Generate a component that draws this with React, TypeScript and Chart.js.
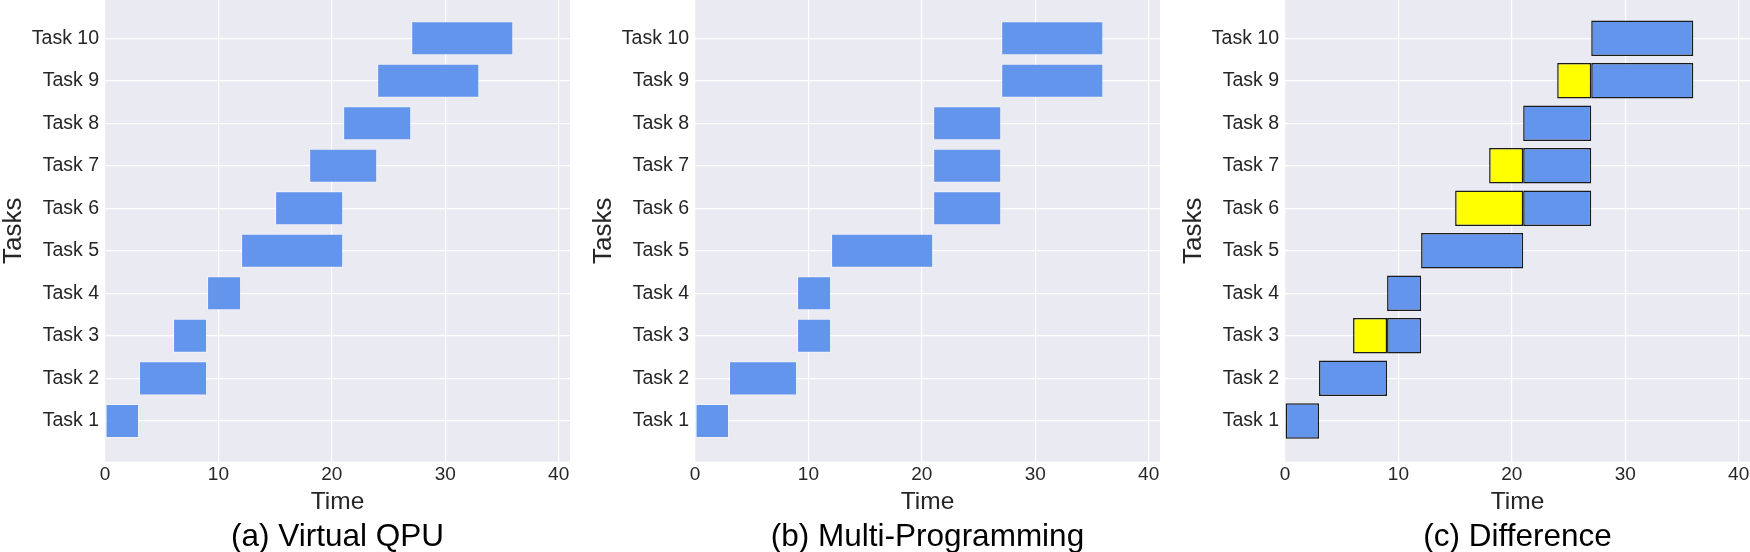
import React, { useEffect, useRef } from "react";
import { Chart, registerables } from "chart.js";

Chart.register(...registerables);

const FONT = "'Liberation Sans', Arial, Helvetica, sans-serif";

const taskLabels = ["Task 1", "Task 2", "Task 3", "Task 4", "Task 5", "Task 6", "Task 7", "Task 8", "Task 9", "Task 10"];
const taskIndex = [1, 2, 3, 4, 5, 6, 7, 8, 9, 10];

// (a) Virtual QPU
const virtualStart = [0, 3, 6, 9, 12, 15, 18, 21, 24, 27];
const virtualEnd = [3, 9, 9, 12, 21, 21, 24, 27, 33, 36];

// (b) Multi-Programming
const multiStart = [0, 3, 9, 9, 12, 21, 21, 21, 27, 27];
const multiEnd = [3, 9, 12, 12, 21, 27, 27, 27, 36, 36];

// (c) Difference: waiting segments (yellow)
const delayTask = [3, 6, 7, 9];
const delayStart = [6, 15, 18, 24];
const delayEnd = [9, 21, 21, 27];

const xTicks = [0, 10, 20, 30, 40];
const captions = ["(a) Virtual QPU", "(b) Multi-Programming", "(c) Difference"];

const BLUE = "#6495ED";
const YELLOW = "#FFFF00";

const bgPlugin = {
  id: "plotBg",
  beforeDraw(chart: any) {
    const { ctx, chartArea } = chart;
    if (!chartArea) return;
    ctx.save();
    ctx.fillStyle = "#EAEAF2";
    ctx.fillRect(chartArea.left, chartArea.top, chartArea.right - chartArea.left, chartArea.bottom - chartArea.top);
    ctx.restore();
  },
};

function buildData(panel: number) {
  if (panel === 0) {
    return [
      {
        data: taskIndex.map((t, i) => ({ y: t, x: [virtualStart[i], virtualEnd[i]] })),
        backgroundColor: BLUE,
        borderColor: "rgba(255,255,255,0.45)",
        borderWidth: 1,
        borderSkipped: false,
        barPercentage: 0.8,
        categoryPercentage: 1,
        grouped: false,
      },
    ];
  }
  if (panel === 1) {
    return [
      {
        data: taskIndex.map((t, i) => ({ y: t, x: [multiStart[i], multiEnd[i]] })),
        backgroundColor: BLUE,
        borderColor: "rgba(255,255,255,0.45)",
        borderWidth: 1,
        borderSkipped: false,
        barPercentage: 0.8,
        categoryPercentage: 1,
        grouped: false,
      },
    ];
  }
  return [
    {
      data: delayTask.map((t, i) => ({ y: t, x: [delayStart[i], delayEnd[i]] })),
      backgroundColor: YELLOW,
      borderColor: "#1a1a1a",
      borderWidth: 1.5,
      borderSkipped: false,
      barPercentage: 0.835,
      categoryPercentage: 1,
      grouped: false,
    },
    {
      data: taskIndex.map((t, i) => ({ y: t, x: [multiStart[i], multiEnd[i]] })),
      backgroundColor: BLUE,
      borderColor: "#1a1a1a",
      borderWidth: 1.5,
      borderSkipped: false,
      barPercentage: 0.835,
      categoryPercentage: 1,
      grouped: false,
    },
  ];
}

function Panel({ panel }: { panel: number }) {
  const ref = useRef<HTMLCanvasElement | null>(null);
  useEffect(() => {
    if (!ref.current) return;
    const chart = new Chart(ref.current, {
      type: "bar",
      data: { datasets: buildData(panel) as any },
      plugins: [bgPlugin],
      options: {
        indexAxis: "y",
        animation: false,
        responsive: false,
        devicePixelRatio: 1,
        events: [],
        layout: { padding: { left: 0, right: 10, top: 0, bottom: 0 } },
        plugins: {
          legend: { display: false },
          tooltip: { enabled: false },
          title: {
            display: true,
            position: "bottom",
            fullSize: false,
            text: captions[panel],
            color: "#000",
            font: { family: FONT, size: 31.5, weight: "normal", lineHeight: 1.2 },
            padding: 0,
          },
        },
        scales: {
          x: {
            type: "linear",
            position: "bottom",
            min: 0,
            max: 41,
            offset: false,
            afterBuildTicks: (s: any) => {
              s.ticks = xTicks.map((v) => ({ value: v }));
            },
            afterFit: (s: any) => {
              s.height = 56.5;
              s.paddingLeft = 0;
              s.paddingRight = 0;
            },
            ticks: {
              includeBounds: false,
              autoSkip: false,
              maxRotation: 0,
              padding: 2,
              color: "#262626",
              font: { family: FONT, size: 19 },
            },
            grid: { color: "#ffffff", lineWidth: 1.2, drawTicks: false, offset: false },
            border: { display: false },
            title: {
              display: true,
              text: "Time",
              color: "#262626",
              font: { family: FONT, size: 24.5, lineHeight: 1.2 },
              padding: { top: 0, bottom: 1 },
            },
          },
          y: {
            type: "linear",
            min: 0.04,
            max: 10.9,
            offset: false,
            afterBuildTicks: (s: any) => {
              s.ticks = taskIndex.map((v) => ({ value: v }));
            },
            afterFit: (s: any) => {
              s.width = 115;
              s.paddingTop = 0;
              s.paddingBottom = 0;
            },
            ticks: {
              autoSkip: false,
              padding: 6,
              color: "#262626",
              font: { family: FONT, size: 19.5 },
              callback: (v: any) => taskLabels[Math.round(Number(v)) - 1],
            },
            grid: { color: "#ffffff", lineWidth: 1.2, drawTicks: false, offset: false },
            border: { display: false },
            title: {
              display: true,
              text: "Tasks",
              color: "#262626",
              font: { family: FONT, size: 26, lineHeight: 1.2 },
              padding: { top: 8, bottom: 0 },
            },
          },
        },
      } as any,
    });
    return () => chart.destroy();
  }, [panel]);

  return (
    <canvas
      ref={ref}
      width={590}
      height={556}
      style={{ position: "absolute", left: 590 * panel - 10, top: 0, width: 590, height: 556 }}
    />
  );
}

export default function App() {
  return (
    <div
      style={{
        position: "fixed",
        left: 0,
        top: 0,
        width: 1750,
        height: 552,
        overflow: "hidden",
        background: "#ffffff",
      }}
    >
      <Panel panel={0} />
      <Panel panel={1} />
      <Panel panel={2} />
    </div>
  );
}
